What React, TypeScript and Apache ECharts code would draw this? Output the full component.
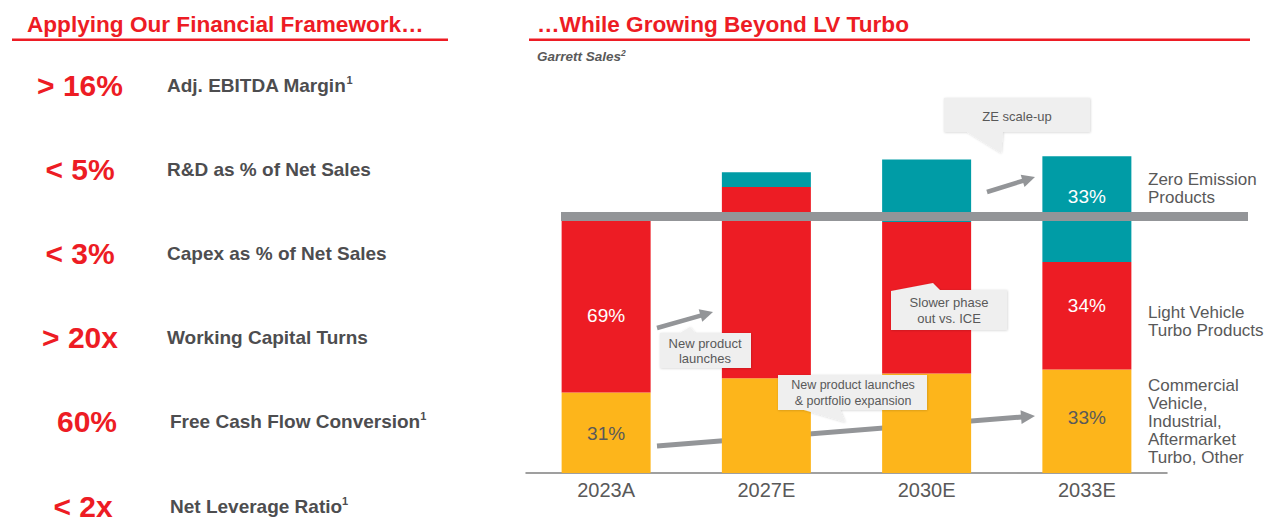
import React, { useEffect, useRef } from "react";
import * as echarts from "echarts";

// ---------- data ----------
const categories = ["2023A", "2027E", "2030E", "2033E"];
// relative sales index (2023A total = 100)
const commercialOther = [31, 36.4, 38.3, 39.8];
const lightVehicle = [69, 73.6, 58.2, 41.4];
const zeroEmission = [0, 5.7, 24.1, 40.6];
const labelledCategories = ["2023A", "2033E"];

const seriesNames = [
  "Commercial Vehicle, Industrial, Aftermarket Turbo, Other",
  "Light Vehicle Turbo Products",
  "Zero Emission Products",
];

const frameworkValues = ["> 16%", "< 5%", "< 3%", "> 20x", "60%", "< 2x"];
const frameworkLabels = [
  "Adj. EBITDA Margin",
  "R&D as % of Net Sales",
  "Capex as % of Net Sales",
  "Working Capital Turns",
  "Free Cash Flow Conversion",
  "Net Leverage Ratio",
];
const frameworkFootnotes = ["1", "", "", "", "1", "1"];

// ---------- styles ----------
const RED = "#ED1C24";
const YELLOW = "#FDB51B";
const TEAL = "#009CA6";
const GRAY = "#939598";
const TEXT = "#595959";
const DARK = "#4D4D4F";
const FONT = "'Liberation Sans', Arial, sans-serif";

const rowY = [85, 169, 253, 337, 421, 506];
const valueX = [80, 80, 80, 80, 87, 83];
const labelX = [167, 167, 167, 167, 170, 170];

// label offsets per series/category (style only)
const labelOffsets: Record<string, number[]> = {
  "0-2023A": [0, 1],
  "1-2023A": [0, 13],
  "0-2033E": [0, -4],
  "1-2033E": [0, -10],
  "2-2033E": [0, -13],
};

function arrow(x1: number, y1: number, x2: number, y2: number, w: number, hl: number, hw: number, z: number) {
  const dx = x2 - x1;
  const dy = y2 - y1;
  const len = Math.sqrt(dx * dx + dy * dy);
  const ux = dx / len;
  const uy = dy / len;
  const bx = x2 - ux * hl;
  const by = y2 - uy * hl;
  const px = -uy;
  const py = ux;
  return [
    {
      type: "line",
      z,
      shape: { x1, y1, x2: bx + ux * 1, y2: by + uy * 1 },
      style: { stroke: GRAY, lineWidth: w },
    },
    {
      type: "polygon",
      z,
      shape: {
        points: [
          [x2, y2],
          [bx + px * hw, by + py * hw],
          [bx - px * hw, by - py * hw],
        ],
      },
      style: { fill: GRAY },
    },
  ];
}

function callout(points: number[][], text: string, cx: number, cy: number, fontSize: number, lh: number) {
  return [
    {
      type: "polygon",
      z: 20,
      shape: { points },
      style: { fill: "#EFEFEF", shadowBlur: 2, shadowColor: "rgba(0,0,0,0.18)", shadowOffsetX: 0.5, shadowOffsetY: 0.5 },
    },
    {
      type: "text",
      z: 21,
      x: cx,
      y: cy,
      style: {
        text,
        fill: TEXT,
        fontSize,
        fontFamily: FONT,
        lineHeight: lh,
        textAlign: "center",
        textVerticalAlign: "middle",
      },
    },
  ];
}

function buildOption() {
  const seriesData = [commercialOther, lightVehicle, zeroEmission];
  const colors = [YELLOW, RED, TEAL];
  const labelColors = [TEXT, "#FFFFFF", "#FFFFFF"];
  const totals = categories.map((_, i) => seriesData.reduce((s, arr) => s + arr[i], 0));

  const series = seriesData.map((arr, si) => ({
    name: seriesNames[si],
    type: "bar",
    stack: "sales",
    barWidth: 89,
    itemStyle: { color: colors[si] },
    data: arr.map((v, i) => {
      const cat = categories[i];
      const show = labelledCategories.includes(cat) && v > 0;
      return {
        value: v,
        label: {
          show,
          position: "inside",
          offset: labelOffsets[`${si}-${cat}`] || [0, 0],
          color: labelColors[si],
          fontSize: 19,
          fontFamily: FONT,
          formatter: () => `${Math.round((v / totals[i]) * 100)}%`,
        },
      };
    }),
  }));

  const graphic: any[] = [];

  // titles
  graphic.push(
    {
      type: "text",
      x: 27,
      y: 24,
      style: { text: "Applying Our Financial Framework…", fill: RED, fontSize: 22.6, fontWeight: "bold", fontFamily: FONT, textVerticalAlign: "middle" },
    },
    { type: "rect", shape: { x: 12, y: 38.5, width: 436, height: 2.5 }, style: { fill: RED } },
    {
      type: "text",
      x: 537,
      y: 24,
      style: { text: "…While Growing Beyond LV Turbo", fill: RED, fontSize: 22.6, fontWeight: "bold", fontFamily: FONT, textVerticalAlign: "middle" },
    },
    { type: "rect", shape: { x: 529, y: 38.5, width: 721, height: 2.5 }, style: { fill: RED } },
    {
      type: "text",
      x: 537,
      y: 56,
      style: {
        text: "{a|Garrett Sales}{s|2}",
        textVerticalAlign: "middle",
        rich: {
          a: { fontSize: 13.5, fontStyle: "italic", fontWeight: "bold", fontFamily: FONT, fill: TEXT, lineHeight: 15 },
          s: { fontSize: 8.5, fontStyle: "italic", fontWeight: "bold", fontFamily: FONT, fill: TEXT, verticalAlign: "top", lineHeight: 15 },
        },
      },
    }
  );

  // left framework list
  frameworkValues.forEach((val, i) => {
    graphic.push({
      type: "text",
      x: valueX[i],
      y: rowY[i],
      style: { text: val, fill: RED, fontSize: 30, fontWeight: "bold", fontFamily: FONT, textAlign: "center", textVerticalAlign: "middle" },
    });
    const fn = frameworkFootnotes[i];
    graphic.push({
      type: "text",
      x: labelX[i],
      y: rowY[i],
      style: {
        text: fn ? `{m|${frameworkLabels[i]}}{s|${fn}}` : `{m|${frameworkLabels[i]}}`,
        textVerticalAlign: "middle",
        rich: {
          m: { fontSize: 19, fontWeight: "bold", fontFamily: FONT, fill: DARK, lineHeight: 22 },
          s: { fontSize: 11, fontWeight: "bold", fontFamily: FONT, fill: DARK, verticalAlign: "top", lineHeight: 22 },
        },
      },
    });
  });

  // gray break band across bars
  graphic.push({ type: "rect", z: 10, shape: { x: 561, y: 212, width: 687, height: 9 }, style: { fill: GRAY } });

  // right-side series labels
  const sideLabels = [
    { text: "Zero Emission\nProducts", y: 188.5 },
    { text: "Light Vehicle\nTurbo Products", y: 321 },
    { text: "Commercial\nVehicle,\nIndustrial,\nAftermarket\nTurbo, Other", y: 421 },
  ];
  sideLabels.forEach((l) =>
    graphic.push({
      type: "text",
      x: 1148,
      y: l.y,
      style: { text: l.text, fill: TEXT, fontSize: 17, fontFamily: FONT, lineHeight: 18, textVerticalAlign: "middle" },
    })
  );

  // arrows
  graphic.push(...arrow(657, 446, 1035, 416, 5, 14, 7, 1));
  graphic.push(...arrow(657, 328, 713, 312, 4.5, 13, 6.5, 15));
  graphic.push(...arrow(987, 192, 1035, 177, 4.5, 13, 6.5, 15));

  // callouts
  graphic.push(
    ...callout(
      [[944, 98], [1090, 98], [1090, 132], [1003, 132], [1001, 153], [967, 132], [944, 132]],
      "ZE scale-up",
      1017,
      116,
      13,
      15
    )
  );
  graphic.push(
    ...callout(
      [[660, 333], [680, 333], [690, 327], [695, 333], [751, 333], [751, 368], [660, 368]],
      "New product\nlaunches",
      705,
      350.5,
      13,
      15
    )
  );
  graphic.push(
    ...callout(
      [[891, 291], [933, 283], [940, 290], [1007, 290], [1007, 330], [891, 330]],
      "Slower phase\nout vs. ICE",
      949,
      310.5,
      13,
      15.5
    )
  );
  graphic.push(
    ...callout(
      [[778, 375], [927, 375], [927, 410], [840, 410], [845, 422], [804, 410], [778, 410]],
      "New product launches\n& portfolio expansion",
      853,
      393,
      12.5,
      15.5
    )
  );

  return {
    animation: false,
    backgroundColor: "#FFFFFF",
    textStyle: { fontFamily: FONT },
    grid: { left: 526, right: 113, top: 135, bottom: 55, containLabel: false },
    xAxis: {
      type: "category",
      data: categories,
      axisLine: { lineStyle: { color: "#808080", width: 1.5 } },
      axisTick: { show: false },
      axisLabel: { color: TEXT, fontSize: 20, fontFamily: FONT, margin: 7 },
    },
    yAxis: { type: "value", min: 0, max: 130, show: false, splitLine: { show: false } },
    series,
    graphic,
  };
}

export default function App() {
  const ref = useRef<HTMLDivElement>(null);
  useEffect(() => {
    if (!ref.current) return;
    const chart = echarts.init(ref.current, undefined, { renderer: "svg" });
    chart.setOption(buildOption() as any);
    return () => chart.dispose();
  }, []);
  return (
    <div
      ref={ref}
      style={{ position: "absolute", left: 0, top: 0, width: 1280, height: 528, background: "#fff" }}
    />
  );
}
